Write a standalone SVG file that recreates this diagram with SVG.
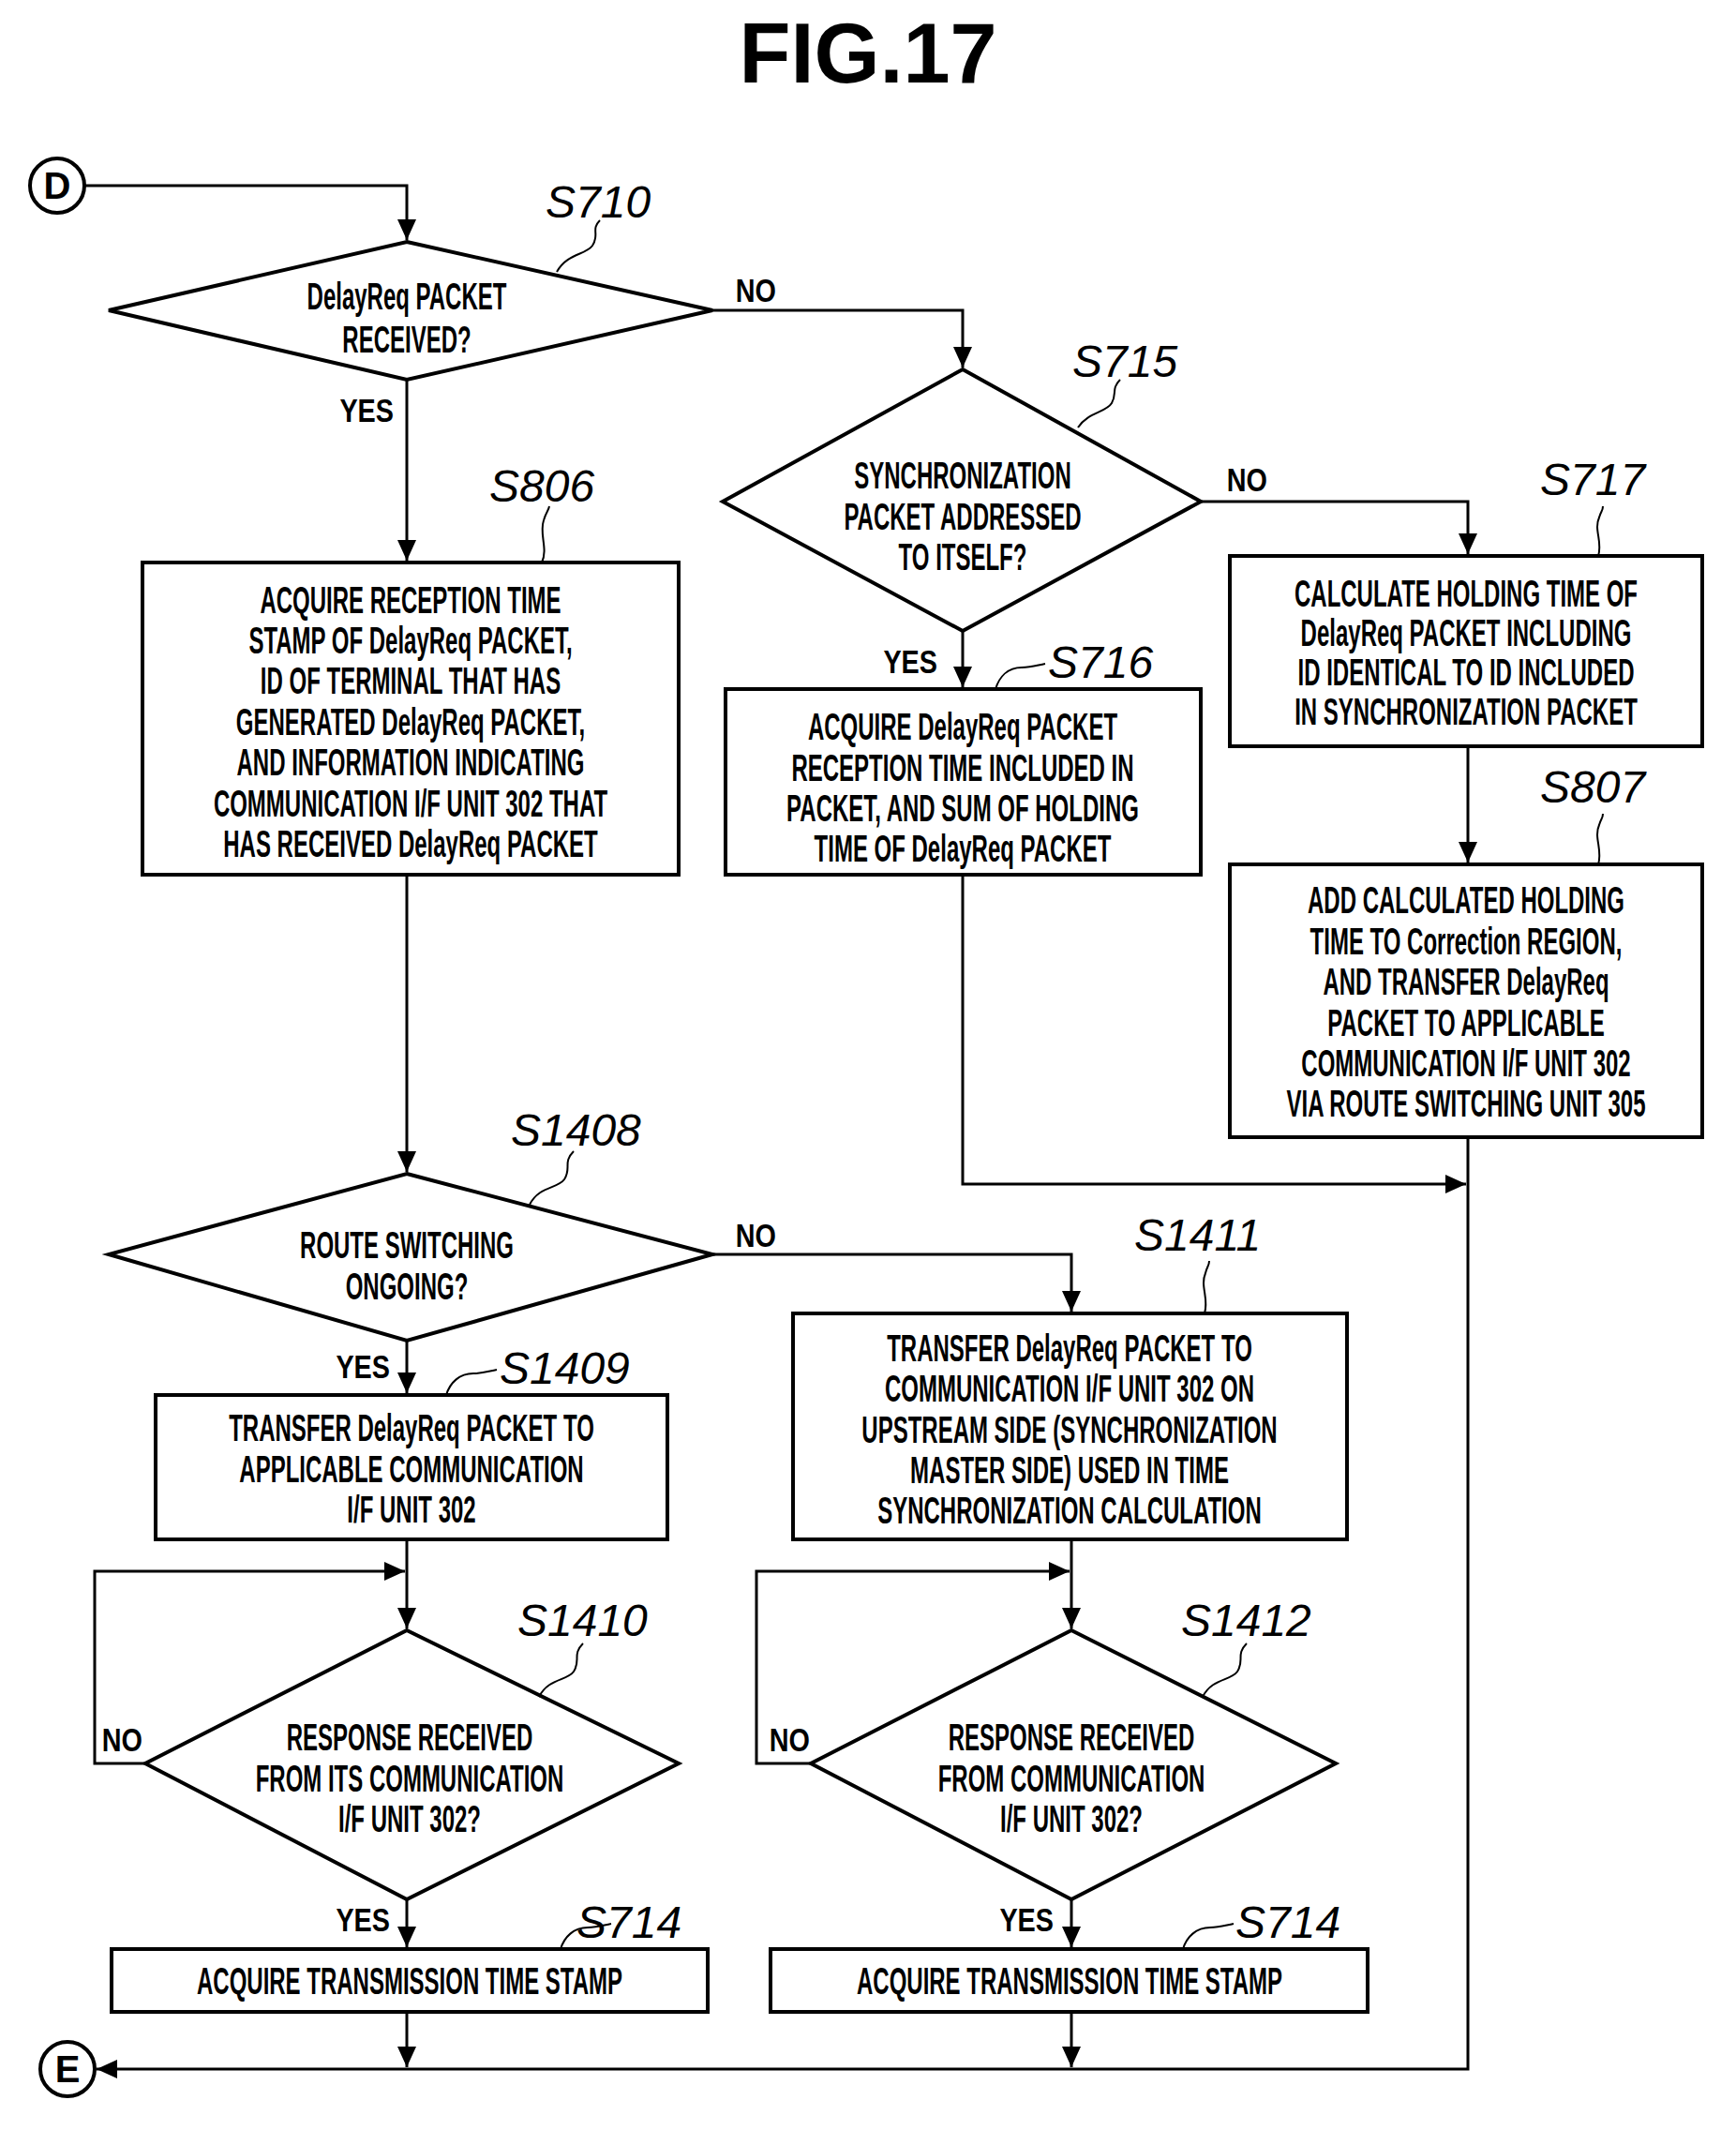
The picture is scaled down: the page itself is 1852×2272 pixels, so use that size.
<svg xmlns="http://www.w3.org/2000/svg" width="1852" height="2272" viewBox="0 0 1852 2272">
<defs>
<marker id="ah" markerWidth="24" markerHeight="24" refX="22" refY="10" orient="auto" markerUnits="userSpaceOnUse">
<path d="M0,0 L22,10 L0,20 z" fill="#000"/>
</marker>
<style>
.s{fill:#fff;stroke:#000;stroke-width:4}
.c{fill:none;stroke:#000;stroke-width:3}
.l{fill:none;stroke:#000;stroke-width:2}
.t{font-family:"Liberation Sans",Arial,sans-serif;font-size:40px;font-weight:bold;text-anchor:middle;fill:#000}
.lb{font-family:"Liberation Sans",Arial,sans-serif;font-size:48px;font-style:italic;fill:#000}
.yn{font-family:"Liberation Sans",Arial,sans-serif;font-size:36px;font-weight:bold;text-anchor:end;fill:#000}
.ti{font-family:"Liberation Sans",Arial,sans-serif;font-size:90px;font-weight:bold;text-anchor:middle;fill:#000}
</style>
</defs>
<rect width="1852" height="2272" fill="#fff"/>
<text class="ti" x="926" y="88">FIG.17</text>

<g id="connectors">
<path class="c" d="M90,198 H434 V256" marker-end="url(#ah)"/>
<path class="c" d="M760,331 H1027 V392" marker-end="url(#ah)"/>
<path class="c" d="M434,405 V598" marker-end="url(#ah)"/>
<path class="c" d="M1281,535 H1566 V591" marker-end="url(#ah)"/>
<path class="c" d="M1027,673 V733" marker-end="url(#ah)"/>
<path class="c" d="M1566,796 V920" marker-end="url(#ah)"/>
<path class="c" d="M1027,933 V1263 H1564" marker-end="url(#ah)"/>
<path class="c" d="M434,933 V1250" marker-end="url(#ah)"/>
<path class="c" d="M760,1338 H1143 V1399" marker-end="url(#ah)"/>
<path class="c" d="M434,1430 V1486" marker-end="url(#ah)"/>
<path class="c" d="M434,1642 V1737" marker-end="url(#ah)"/>
<path class="c" d="M155,1881 H101 V1676 H432" marker-end="url(#ah)"/>
<path class="c" d="M1143,1642 V1737" marker-end="url(#ah)"/>
<path class="c" d="M865,1881 H807 V1676 H1141" marker-end="url(#ah)"/>
<path class="c" d="M434,2026 V2077" marker-end="url(#ah)"/>
<path class="c" d="M1143,2026 V2077" marker-end="url(#ah)"/>
<path class="c" d="M434,2146 V2205" marker-end="url(#ah)"/>
<path class="c" d="M1143,2146 V2205" marker-end="url(#ah)"/>
<path class="c" d="M1566,1213 V2207 H103" marker-end="url(#ah)"/>
<g transform="scale(0.8,1)">
<text class="yn" x="1035" y="322">NO</text>
<text class="yn" x="525" y="450">YES</text>
<text class="yn" x="1690" y="524">NO</text>
<text class="yn" x="1250" y="718">YES</text>
<text class="yn" x="1035" y="1330">NO</text>
<text class="yn" x="520" y="1470">YES</text>
<text class="yn" x="190" y="1868">NO</text>
<text class="yn" x="1080" y="1868">NO</text>
<text class="yn" x="520" y="2060">YES</text>
<text class="yn" x="1405" y="2060">YES</text>
</g>
</g>

<g id="D"><circle class="s" cx="61" cy="198" r="29"/><text class="t" x="61" y="212" font-size="38">D</text></g>
<g id="E"><circle class="s" cx="72" cy="2207" r="29"/><text class="t" x="72" y="2221" font-size="38">E</text></g>

<g id="S710">
<polygon class="s" points="434,258 760,331 434,405 116,331"/>
<g transform="translate(434,0) scale(0.6,1)"><text class="t" x="0" y="330">DelayReq PACKET</text><text class="t" x="0" y="376">RECEIVED?</text></g>
<path class="l" d="M594,290 C605,270 625,272 632,262 C640,250 630,245 640,235"/><text class="lb" x="582" y="232">S710</text>
</g>

<g id="S806">
<rect class="s" x="152" y="600" width="572" height="333"/>
<g transform="translate(438,0) scale(0.6,1)">
<text class="t" x="0" y="654">ACQUIRE RECEPTION TIME</text>
<text class="t" x="0" y="697">STAMP OF DelayReq PACKET,</text>
<text class="t" x="0" y="740">ID OF TERMINAL THAT HAS</text>
<text class="t" x="0" y="784">GENERATED DelayReq PACKET,</text>
<text class="t" x="0" y="827">AND INFORMATION INDICATING</text>
<text class="t" x="0" y="871">COMMUNICATION I/F UNIT 302 THAT</text>
<text class="t" x="0" y="914">HAS RECEIVED DelayReq PACKET</text>
</g>
<path class="l" d="M578,600 C585,585 575,570 580,555 C583,545 585,545 586,540"/><text class="lb" x="522" y="535">S806</text>
</g>

<g id="S715">
<polygon class="s" points="1027,394 1281,535 1027,673 771,535"/>
<g transform="translate(1027,0) scale(0.6,1)"><text class="t" x="0" y="521">SYNCHRONIZATION</text><text class="t" x="0" y="565">PACKET ADDRESSED</text><text class="t" x="0" y="608">TO ITSELF?</text></g>
<path class="l" d="M1150,456 C1160,440 1180,440 1186,430 C1192,420 1185,415 1195,405"/><text class="lb" x="1144" y="402">S715</text>
</g>

<g id="S717">
<rect class="s" x="1312" y="593" width="504" height="203"/>
<g transform="translate(1564,0) scale(0.6,1)">
<text class="t" x="0" y="647">CALCULATE HOLDING TIME OF</text>
<text class="t" x="0" y="689">DelayReq PACKET INCLUDING</text>
<text class="t" x="0" y="731">ID IDENTICAL TO ID INCLUDED</text>
<text class="t" x="0" y="773">IN SYNCHRONIZATION PACKET</text>
</g>
<path class="l" d="M1705,593 C1710,578 1700,565 1706,552 C1708,545 1710,545 1710,540"/><text class="lb" x="1643" y="528">S717</text>
</g>

<g id="S807">
<rect class="s" x="1312" y="922" width="504" height="291"/>
<g transform="translate(1564,0) scale(0.6,1)">
<text class="t" x="0" y="974">ADD CALCULATED HOLDING</text>
<text class="t" x="0" y="1018">TIME TO Correction REGION,</text>
<text class="t" x="0" y="1061">AND TRANSFER DelayReq</text>
<text class="t" x="0" y="1105">PACKET TO APPLICABLE</text>
<text class="t" x="0" y="1148">COMMUNICATION I/F UNIT 302</text>
<text class="t" x="0" y="1191">VIA ROUTE SWITCHING UNIT 305</text>
</g>
<path class="l" d="M1705,922 C1710,907 1700,893 1706,880 C1708,873 1710,873 1710,868"/><text class="lb" x="1643" y="856">S807</text>
</g>

<g id="S716">
<rect class="s" x="774" y="735" width="507" height="198"/>
<g transform="translate(1027,0) scale(0.6,1)">
<text class="t" x="0" y="789">ACQUIRE DelayReq PACKET</text>
<text class="t" x="0" y="833">RECEPTION TIME INCLUDED IN</text>
<text class="t" x="0" y="876">PACKET, AND SUM OF HOLDING</text>
<text class="t" x="0" y="919">TIME OF DelayReq PACKET</text>
</g>
<path class="l" d="M1062,735 C1066,722 1075,712 1090,712 C1100,712 1105,710 1115,708"/><text class="lb" x="1118" y="723">S716</text>
</g>

<g id="S1408">
<polygon class="s" points="434,1252 760,1338 434,1430 116,1338"/>
<g transform="translate(434,0) scale(0.6,1)"><text class="t" x="0" y="1342">ROUTE SWITCHING</text><text class="t" x="0" y="1386">ONGOING?</text></g>
<path class="l" d="M565,1285 C575,1265 595,1268 602,1258 C610,1246 600,1240 612,1228"/><text class="lb" x="545" y="1222">S1408</text>
</g>

<g id="S1409">
<rect class="s" x="166" y="1488" width="546" height="154"/>
<g transform="translate(439,0) scale(0.6,1)">
<text class="t" x="0" y="1537">TRANSFER DelayReq PACKET TO</text>
<text class="t" x="0" y="1581">APPLICABLE COMMUNICATION</text>
<text class="t" x="0" y="1624">I/F UNIT 302</text>
</g>
<path class="l" d="M476,1488 C480,1475 490,1465 505,1465 C515,1465 520,1463 530,1461"/><text class="lb" x="533" y="1476">S1409</text>
</g>

<g id="S1411">
<rect class="s" x="846" y="1401" width="591" height="241"/>
<g transform="translate(1141,0) scale(0.6,1)">
<text class="t" x="0" y="1452">TRANSFER DelayReq PACKET TO</text>
<text class="t" x="0" y="1495">COMMUNICATION I/F UNIT 302 ON</text>
<text class="t" x="0" y="1539">UPSTREAM SIDE (SYNCHRONIZATION</text>
<text class="t" x="0" y="1582">MASTER SIDE) USED IN TIME</text>
<text class="t" x="0" y="1625">SYNCHRONIZATION CALCULATION</text>
</g>
<path class="l" d="M1285,1401 C1290,1385 1280,1372 1286,1358 C1288,1350 1290,1350 1290,1345"/><text class="lb" x="1210" y="1334">S1411</text>
</g>

<g id="S1410">
<polygon class="s" points="434,1739 724,1881 434,2026 155,1881"/>
<g transform="translate(437,0) scale(0.6,1)"><text class="t" x="0" y="1867">RESPONSE RECEIVED</text><text class="t" x="0" y="1911">FROM ITS COMMUNICATION</text><text class="t" x="0" y="1954">I/F UNIT 302?</text></g>
<path class="l" d="M575,1810 C585,1790 605,1793 612,1783 C620,1771 610,1765 622,1753"/><text class="lb" x="552" y="1745">S1410</text>
</g>

<g id="S1412">
<polygon class="s" points="1143,1739 1425,1881 1143,2026 865,1881"/>
<g transform="translate(1143,0) scale(0.6,1)"><text class="t" x="0" y="1867">RESPONSE RECEIVED</text><text class="t" x="0" y="1911">FROM COMMUNICATION</text><text class="t" x="0" y="1954">I/F UNIT 302?</text></g>
<path class="l" d="M1283,1810 C1293,1790 1313,1793 1320,1783 C1328,1771 1318,1765 1330,1753"/><text class="lb" x="1260" y="1745">S1412</text>
</g>

<g id="S714a">
<rect class="s" x="119" y="2079" width="636" height="67"/>
<g transform="translate(437,0) scale(0.6,1)"><text class="t" x="0" y="2127">ACQUIRE TRANSMISSION TIME STAMP</text></g>
<path class="l" d="M598,2079 C602,2066 612,2056 627,2056 C637,2056 642,2054 652,2052"/><text class="lb" x="615" y="2067">S714</text>
</g>

<g id="S714b">
<rect class="s" x="822" y="2079" width="637" height="67"/>
<g transform="translate(1141,0) scale(0.6,1)"><text class="t" x="0" y="2127">ACQUIRE TRANSMISSION TIME STAMP</text></g>
<path class="l" d="M1262,2079 C1266,2066 1276,2056 1291,2056 C1301,2056 1306,2054 1316,2052"/><text class="lb" x="1318" y="2067">S714</text>
</g>
</svg>
